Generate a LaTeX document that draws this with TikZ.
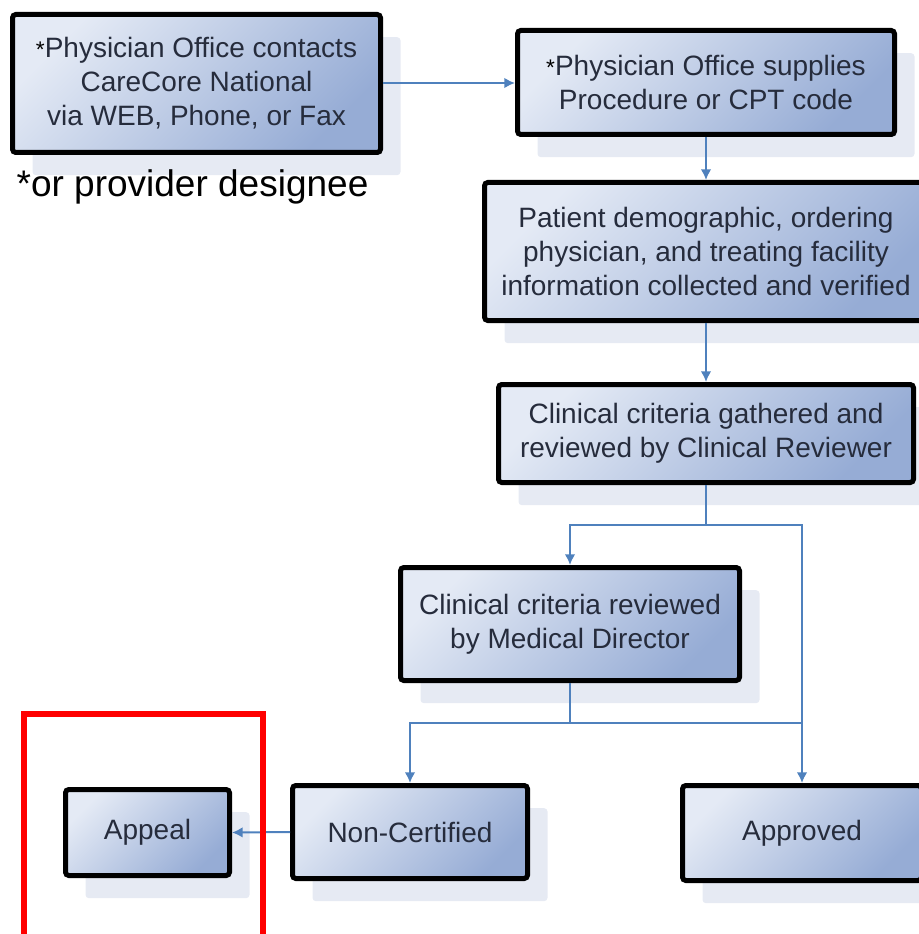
\documentclass[tikz,border=0pt]{standalone}
\usepackage{fontspec}
\setmainfont{Liberation Sans}
\usetikzlibrary{arrows.meta,shadows}

\definecolor{boxlight}{RGB}{228,234,245}
\definecolor{boxdark}{RGB}{150,172,213}
\definecolor{shadowc}{RGB}{230,234,243}
\definecolor{flowc}{RGB}{79,129,189}
\definecolor{textc}{RGB}{38,44,60}

\tikzset{
  stepbox/.style 2 args={draw=black, line width=3.75pt, rounded corners=2.5pt,
    top color=boxlight, bottom color=boxdark, shading angle=45,
    drop shadow={shadow xshift=15pt, shadow yshift=-17pt, fill=shadowc, opacity=1},
    minimum width=(#1-5)*0.75pt, minimum height=(#2-5)*0.75pt, inner sep=0pt,
    align=center, text=textc, font=\fontsize{21}{25.5}\selectfont},
  flow/.style={draw=flowc, line width=1.5pt, -{Latex[length=8pt,width=8pt]}},
  plain/.style={draw=flowc, line width=1.5pt}
}
\newcommand{\desig}{{\color{black}\fontsize{17}{17}\selectfont*}}

\begin{document}
\begin{tikzpicture}[x=0.75pt,y=-0.75pt]
\useasboundingbox (0,0) rectangle (919,934);
\clip (0,0) rectangle (919,934);
% boxes
\node[stepbox={373}{143}] (contact) at (196.5,83.5) {\desig Physician Office contacts\\CareCore National\\via WEB, Phone, or Fax};
\node[anchor=base west, font=\fontsize{27.75}{30}\selectfont] (note) at (12,197) {*or provider designee};
\node[stepbox={382}{109}] (code) at (706,82.5) {\desig Physician Office supplies\\Procedure or CPT code};
\node[stepbox={448}{143}] (info) at (706,251.5) {Patient demographic, ordering\\physician, and treating facility\\information collected and verified};
\node[stepbox={420}{103}] (review) at (706,433.5) {Clinical criteria gathered and\\reviewed by Clinical Reviewer};
\node[stepbox={344}{118}] (director) at (570,624) {Clinical criteria reviewed\\by Medical Director};
\node[stepbox={169}{91}] (appeal) at (147.5,832.5) {Appeal};
\node[stepbox={240}{98}] (noncert) at (410,832) {Non-Certified};
\node[stepbox={244}{100}] (approved) at (802,833) {Approved};
% connectors
\coordinate (split1) at (706,525);
\coordinate (split2) at (570,723);
\draw[flow] (contact.east |- 0,83) -- (code.west |- 0,83);
\draw[flow] (code.south) -- (info.north);
\draw[flow] (info.south) -- (review.north);
\draw[plain] (review.south) -- (split1);
\draw[flow] (split1) -| (director.north);
\draw[flow] (split1) -| (approved.north);
\draw[plain] (director.south) -- (split2);
\draw[flow] (split2) -| (noncert.north);
\draw[plain] (split2) -- (split2 -| approved.north);
\draw[flow] (noncert.west) -- (appeal.east);
% highlight
\draw[red, line width=4.5pt, line join=miter] (24,950) -- (24,714) -- (263,714) -- (263,950);
\end{tikzpicture}
\end{document}
